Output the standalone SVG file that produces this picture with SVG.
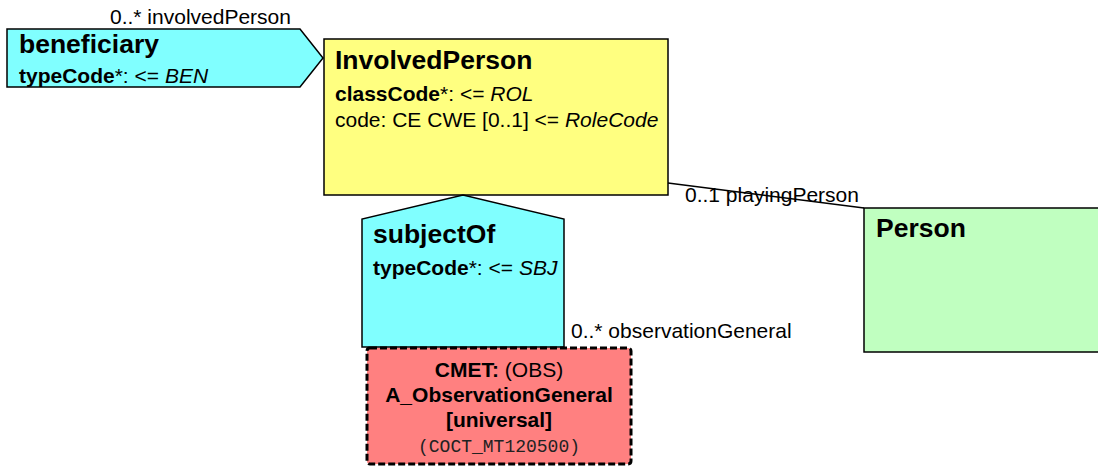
<svg xmlns="http://www.w3.org/2000/svg" width="1098" height="467" viewBox="0 0 1098 467">
<style>
text{font-family:"Liberation Sans",Arial,sans-serif;fill:#000}
.t{font-size:26.5px;font-weight:bold}
.a{font-size:21px}
.b{font-weight:bold}
.i{font-style:italic}
.m{font-family:"Liberation Mono","Courier New",monospace;font-size:18px;fill:#222}
.node{stroke:#000;stroke-width:1.5}
.lbl{font-size:21px}
</style>
<rect width="1098" height="467" fill="#fff"/>
<g id="beneficiary">
<polygon class="node" points="7,29 300,29 323,58 300,87 7,87" fill="#80FFFF"/>
<text class="t" x="19" y="53">beneficiary</text>
<text class="a" x="19" y="83"><tspan class="b">typeCode</tspan>*: &lt;= <tspan class="i">BEN</tspan></text>
</g>
<g id="InvolvedPerson">
<rect class="node" x="324" y="39" width="344" height="156" fill="#FFFF80"/>
<text class="t" x="335" y="69">InvolvedPerson</text>
<text class="a" x="335" y="101"><tspan class="b">classCode</tspan>*: &lt;= <tspan class="i">ROL</tspan></text>
<text class="a" x="335" y="127">code: CE CWE [0..1] &lt;= <tspan class="i">RoleCode</tspan></text>
</g>
<g id="subjectOf">
<polygon class="node" points="362,347 362,219 463,195 564,219 564,347" fill="#80FFFF"/>
<text class="t" x="373" y="243">subjectOf</text>
<text class="a" x="373" y="275"><tspan class="b">typeCode</tspan>*: &lt;= <tspan class="i">SBJ</tspan></text>
</g>
<g id="Person">
<rect class="node" x="864" y="208" width="240" height="144" fill="#C0FFC0"/>
<text class="t" x="876" y="237">Person</text>
</g>
<g id="CMET">
<rect x="367" y="348" width="264" height="116" rx="3" fill="#FF8080" stroke="#000" stroke-width="3" stroke-dasharray="7,3"/>
<text class="a" x="499" y="377" text-anchor="middle"><tspan class="b">CMET:</tspan> (OBS)</text>
<text class="a b" x="499" y="402" text-anchor="middle">A_ObservationGeneral</text>
<text class="a b" x="499" y="427" text-anchor="middle">[universal]</text>
<text class="m" x="499" y="452" text-anchor="middle">(COCT_MT120500)</text>
</g>
<g id="connectors">
<text class="lbl" x="110" y="24">0..* involvedPerson</text>
<text class="lbl" x="685" y="202">0..1 playingPerson</text>
<line x1="668" y1="183" x2="864" y2="208" stroke="#000" stroke-width="1.5"/>
<text class="lbl" x="571" y="338">0..* observationGeneral</text>
</g>
</svg>
